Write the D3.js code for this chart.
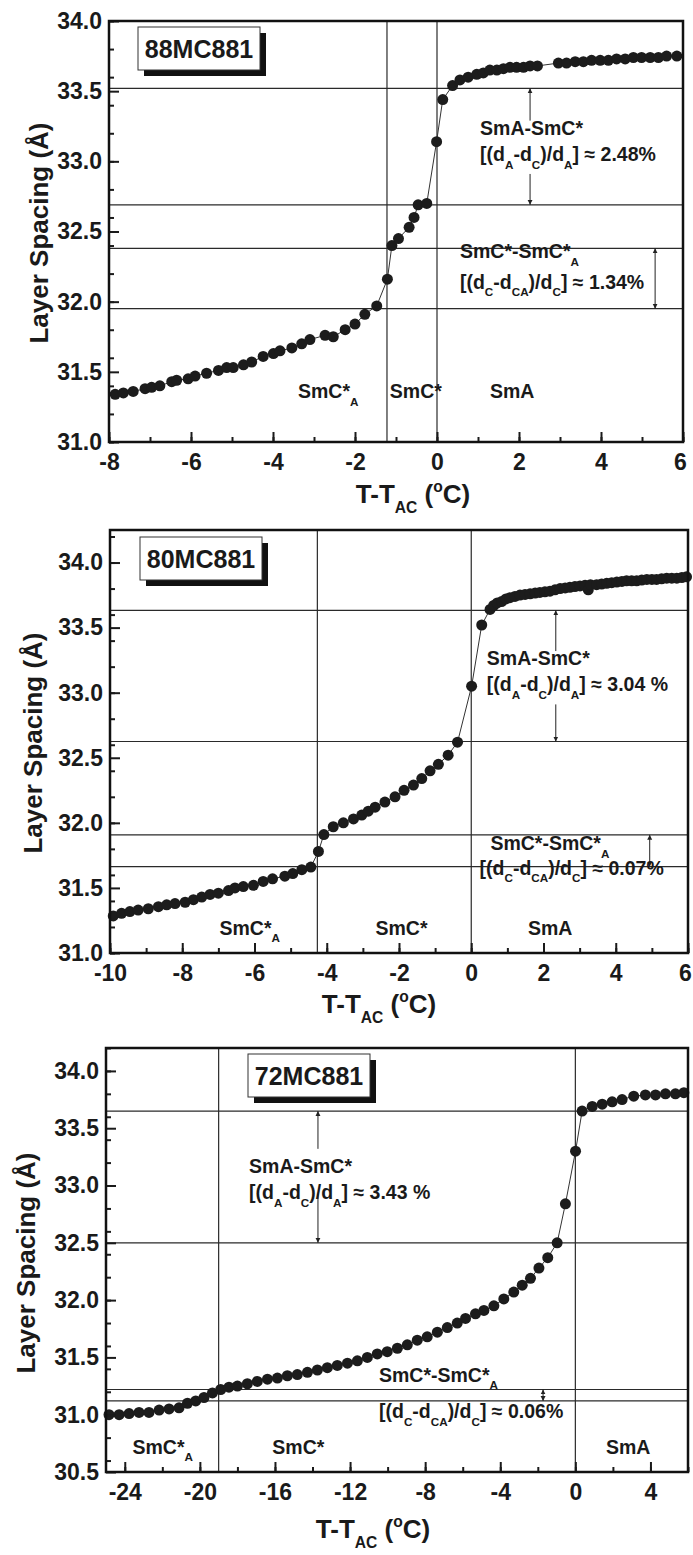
<!DOCTYPE html>
<html>
<head>
<meta charset="utf-8">
<script src="https://cdn.jsdelivr.net/npm/d3@7"></script>
<style>
  body { margin: 0; background: #fff; }
  text { font-family: "Liberation Sans", Arial, sans-serif; font-weight: bold; fill: #1a1a1a; }
</style>
</head>
<body>
<svg id="fig" width="693" height="1555"></svg>
<script>
// 88MC881: temperature T-T_AC (°C) and layer spacing (Å)
const t88 = [-7.85,-7.65,-7.41,-7.12,-6.96,-6.76,-6.47,-6.35,-6.07,-5.90,-5.62,-5.33,-5.13,-4.97,-4.72,
  -4.52,-4.24,-3.99,-3.83,-3.54,-3.30,-3.10,-2.73,-2.53,-2.24,-2.00,-1.76,-1.47,-1.21,-1.10,
  -0.94,-0.68,-0.56,-0.46,-0.25,-0.01,0.14,0.38,0.56,0.76,0.97,1.13,1.29,1.46,1.62,
  1.78,1.94,2.11,2.27,2.45,2.96,3.16,3.37,3.57,3.77,3.98,4.18,4.38,4.59,4.79,
  4.99,5.20,5.40,5.60,5.85];
const d88 = [31.34,31.35,31.36,31.38,31.39,31.40,31.43,31.44,31.45,31.47,31.49,31.51,31.53,31.53,31.55,
  31.57,31.61,31.63,31.65,31.67,31.70,31.73,31.76,31.75,31.80,31.84,31.91,31.97,32.16,32.40,
  32.45,32.53,32.60,32.69,32.70,33.14,33.44,33.54,33.58,33.60,33.62,33.63,33.65,33.65,33.66,
  33.67,33.67,33.67,33.68,33.68,33.70,33.70,33.71,33.71,33.72,33.72,33.72,33.73,33.73,33.74,
  33.74,33.74,33.74,33.75,33.75];

// 80MC881
const t80 = [-9.91,-9.68,-9.45,-9.22,-8.94,-8.66,-8.43,-8.20,-7.92,-7.69,-7.46,-7.23,-7.00,-6.72,-6.54,
  -6.31,-6.03,-5.76,-5.50,-5.16,-4.94,-4.69,-4.44,-4.23,-4.08,-3.82,-3.54,-3.26,-3.03,-2.85,
  -2.66,-2.39,-2.11,-1.86,-1.60,-1.37,-1.14,-0.91,-0.64,-0.38,0.01,0.29,0.52,0.62,0.72,
  0.84,0.96,1.07,1.21,1.35,1.49,1.63,1.77,1.90,2.04,2.18,2.32,2.46,2.60,2.73,
  2.87,3.01,3.15,3.24,3.30,3.47,3.61,3.75,3.89,4.03,4.17,4.30,4.44,4.58,4.72,
  4.86,5.00,5.13,5.27,5.41,5.55,5.69,5.83,5.96];
const d80 = [31.285,31.305,31.318,31.33,31.34,31.356,31.37,31.38,31.39,31.41,31.43,31.45,31.46,31.48,31.50,
  31.51,31.52,31.55,31.57,31.59,31.61,31.64,31.66,31.78,31.91,31.97,32.00,32.03,32.06,32.09,
  32.12,32.16,32.20,32.25,32.29,32.34,32.40,32.45,32.52,32.62,33.05,33.52,33.64,33.67,33.69,
  33.70,33.72,33.73,33.74,33.75,33.755,33.76,33.765,33.77,33.775,33.78,33.79,33.80,33.805,33.81,
  33.815,33.82,33.825,33.79,33.83,33.83,33.835,33.84,33.845,33.85,33.855,33.86,33.86,33.86,33.865,
  33.87,33.87,33.87,33.875,33.88,33.88,33.88,33.885,33.89];

// 72MC881
const t72 = [-24.84,-24.30,-23.77,-23.24,-22.71,-22.17,-21.64,-21.11,-20.66,-20.22,-19.78,-19.33,-18.89,-18.45,-18.00,
  -17.47,-16.94,-16.40,-15.87,-15.34,-14.81,-14.27,-13.74,-13.21,-12.68,-12.14,-11.61,-11.08,-10.55,-10.02,
  -9.48,-8.95,-8.42,-7.89,-7.35,-6.82,-6.29,-5.85,-5.32,-4.87,-4.34,-3.81,-3.28,-2.83,-2.39,
  -1.94,-1.47,-0.97,-0.53,0.01,0.36,0.90,1.43,1.96,2.49,3.11,3.73,4.27,4.80,5.33,5.78];
const d72 = [31.00,31.00,31.01,31.02,31.02,31.04,31.05,31.06,31.10,31.12,31.15,31.19,31.22,31.24,31.25,
  31.27,31.29,31.31,31.32,31.34,31.35,31.37,31.39,31.41,31.43,31.45,31.47,31.50,31.53,31.55,
  31.58,31.61,31.65,31.68,31.72,31.76,31.80,31.84,31.88,31.91,31.95,32.01,32.07,32.13,32.19,
  32.28,32.37,32.50,32.84,33.30,33.65,33.69,33.71,33.73,33.75,33.78,33.79,33.79,33.80,33.80,33.81];

// phase boundaries and layer-spacing reference levels
const vLines88 = [-1.22, 0], hLines88 = [33.52, 32.69, 32.38, 31.95];
const vLines80 = [-4.26, 0], hLines80 = [33.633, 32.625, 31.908, 31.664];
const vLines72 = [-19, 0], hLines72 = [33.65, 32.50, 31.22, 31.12];

const xTicks88 = [-8, -6, -4, -2, 0, 2, 4, 6];
const xTicks80 = [-10, -8, -6, -4, -2, 0, 2, 4, 6];
const xTicks72 = [-24, -20, -16, -12, -8, -4, 0, 4];
const yTicks88 = [31.0, 31.5, 32.0, 32.5, 33.0, 33.5, 34.0];
const yTicks72 = [30.5, 31.0, 31.5, 32.0, 32.5, 33.0, 33.5, 34.0];

const svg = d3.select("#fig");

const defs = svg.append("defs");
defs.append("marker").attr("id", "ah").attr("viewBox", "0 0 10 10")
  .attr("refX", 10).attr("refY", 5).attr("markerWidth", 5).attr("markerHeight", 7)
  .attr("markerUnits", "userSpaceOnUse").attr("orient", "auto-start-reverse")
  .append("path").attr("d", "M0,0L10,5L0,10Z").attr("fill", "#222");

// text with sub/superscripts: parts are strings or [string, "sub"|"sup"]
function rich(g, x, y, parts, size, anchor) {
  const t = g.append("text").attr("x", x).attr("y", y)
    .attr("font-size", size).attr("text-anchor", anchor || "start");
  let shift = 0;
  parts.forEach(p => {
    const s = Array.isArray(p) ? p[0] : p;
    const kind = Array.isArray(p) ? p[1] : null;
    const target = kind === "sub" ? size * 0.38 : kind === "sup" ? -size * 0.42 : 0;
    t.append("tspan").attr("dy", target - shift)
      .attr("font-size", kind ? size * 0.6 : size).text(s);
    shift = target;
  });
  return t;
}

function panel(cfg) {
  const x = d3.scaleLinear().domain(cfg.xDom).range([cfg.left, cfg.right]);
  const y = d3.scaleLinear().domain(cfg.yDom).range([cfg.bottom, cfg.top]);
  const g = svg.append("g");

  cfg.hLines.forEach(v => g.append("line")
    .attr("x1", cfg.left).attr("x2", cfg.right).attr("y1", y(v)).attr("y2", y(v))
    .attr("stroke", "#2a2a2a").attr("stroke-width", 1.2));
  cfg.vLines.forEach(v => g.append("line")
    .attr("x1", x(v)).attr("x2", x(v)).attr("y1", cfg.top).attr("y2", cfg.bottom)
    .attr("stroke", "#2a2a2a").attr("stroke-width", 1.2));

  const pts = cfg.t.map((d, i) => [d, cfg.d[i]]);
  g.append("path").datum(pts)
    .attr("d", d3.line().x(d => x(d[0])).y(d => y(d[1])))
    .attr("fill", "none").attr("stroke", "#333").attr("stroke-width", 1);
  g.selectAll("circle.pt").data(pts).enter().append("circle")
    .attr("class", "pt")
    .attr("cx", d => x(d[0])).attr("cy", d => y(d[1])).attr("r", 5.5)
    .attr("fill", "#1c1c1c");

  // axes with inward ticks, plain hyphen for negatives
  const yAx = g.append("g").attr("transform", `translate(${cfg.left},0)`)
    .call(d3.axisLeft(y).tickValues(cfg.yTicks).tickFormat(d3.format(".1f"))
      .tickSize(-10).tickPadding(7));
  g.append("g").attr("transform", `translate(${cfg.left},0)`)
    .call(d3.axisLeft(y).ticks(cfg.yMinor).tickFormat("").tickSize(-5));
  const xAx = g.append("g").attr("transform", `translate(0,${cfg.bottom})`)
    .call(d3.axisBottom(x).tickValues(cfg.xTicks).tickFormat(d => String(d))
      .tickSize(-10).tickPadding(12));
  g.append("g").attr("transform", `translate(0,${cfg.bottom})`)
    .call(d3.axisBottom(x).ticks(cfg.xMinor).tickFormat("").tickSize(-5));
  g.selectAll(".domain").remove();
  g.selectAll(".tick line").attr("stroke", "#1a1a1a").attr("stroke-width", 2);
  [yAx, xAx].forEach(a => a.selectAll("text")
    .attr("font-size", 23).attr("fill", "#1a1a1a")
    .attr("font-family", "'Liberation Sans', Arial, sans-serif").attr("font-weight", "bold"));
  // last x label sits at the right page edge
  xAx.selectAll(".tick text").filter(d => d === cfg.xDom[1]).attr("dx", -3);

  g.append("rect").attr("x", cfg.left).attr("y", cfg.top)
    .attr("width", cfg.right - cfg.left).attr("height", cfg.bottom - cfg.top)
    .attr("fill", "none").attr("stroke", "#111").attr("stroke-width", 2.5);

  // sample label box with drop shadow
  const b = cfg.box;
  g.append("rect").attr("x", b.x + 6).attr("y", b.y + 6).attr("width", 122).attr("height", 43).attr("fill", "#111");
  g.append("rect").attr("x", b.x).attr("y", b.y).attr("width", 122).attr("height", 43)
    .attr("fill", "#fff").attr("stroke", "#333").attr("stroke-width", 1);
  g.append("text").attr("x", b.x + 61).attr("y", b.y + 31).attr("text-anchor", "middle")
    .attr("font-size", 25).text(cfg.name);

  // arrows
  const a1 = cfg.arrow1;
  g.append("line").attr("x1", x(a1.x)).attr("x2", x(a1.x)).attr("y1", y(a1.gapTop)).attr("y2", y(a1.top))
    .attr("stroke", "#222").attr("stroke-width", 1).attr("marker-end", "url(#ah)");
  g.append("line").attr("x1", x(a1.x)).attr("x2", x(a1.x)).attr("y1", y(a1.gapBot)).attr("y2", y(a1.bot))
    .attr("stroke", "#222").attr("stroke-width", 1).attr("marker-end", "url(#ah)");
  const a2 = cfg.arrow2;
  g.append("line").attr("x1", x(a2.x)).attr("x2", x(a2.x)).attr("y1", y(a2.top)).attr("y2", y(a2.bot))
    .attr("stroke", "#222").attr("stroke-width", 1)
    .attr("marker-start", "url(#ah)").attr("marker-end", "url(#ah)");

  // annotations
  const n = cfg.notes;
  rich(g, x(n.ac[0]), y(n.ac[1]), ["SmA-SmC*"], 19.5);
  rich(g, x(n.f1[0]), y(n.f1[1]), ["[(d", ["A", "sub"], "-d", ["C", "sub"], ")/d", ["A", "sub"], "] \u2248 " + n.p1], 19.5);
  rich(g, x(n.cc[0]), y(n.cc[1]), ["SmC*-SmC*", ["A", "sub"]], 19.5);
  rich(g, x(n.f2[0]), y(n.f2[1]), ["[(d", ["C", "sub"], "-d", ["CA", "sub"], ")/d", ["C", "sub"], "] \u2248 " + n.p2], 19.5);
  rich(g, x(n.ph[0]), y(n.phY), ["SmC*", ["A", "sub"]], 19.5);
  rich(g, x(n.ph[1]), y(n.phY), ["SmC*"], 19.5);
  rich(g, x(n.ph[2]), y(n.phY), ["SmA"], 19.5);

  // axis titles
  rich(g, cfg.xTitle[0], cfg.xTitle[1], ["T-T", ["AC", "sub"], " (", ["o", "sup"], "C)"], 26, "middle");
  g.append("text").attr("transform", `translate(${cfg.yTitle[0]},${cfg.yTitle[1]}) rotate(-90)`)
    .attr("text-anchor", "middle").attr("font-size", 26).text("Layer Spacing (\u00c5)");
}

panel({
  name: "88MC881", t: t88, d: d88,
  xDom: [-8, 6], yDom: [31, 34], left: 109, right: 683, top: 21, bottom: 442,
  xTicks: xTicks88, xMinor: 14, yTicks: yTicks88, yMinor: 12,
  hLines: hLines88, vLines: vLines88,
  box: { x: 138, y: 27 },
  arrow1: { x: 2.27, top: 33.52, gapTop: 33.29, gapBot: 32.91, bot: 32.69 },
  arrow2: { x: 5.32, top: 32.38, bot: 31.95 },
  notes: { ac: [1.05, 33.19], f1: [1.05, 33.0], p1: "2.48%", cc: [0.56, 32.31], f2: [0.56, 32.09], p2: "1.34%",
    ph: [-3.39, -1.15, 1.29], phY: 31.31 },
  xTitle: [413, 503], yTitle: [48, 233]
});

panel({
  name: "80MC881", t: t80, d: d80,
  xDom: [-10, 6], yDom: [31, 34.25], left: 110, right: 688, top: 530, bottom: 953,
  xTicks: xTicks80, xMinor: 16, yTicks: yTicks88, yMinor: 13,
  hLines: hLines80, vLines: vLines80,
  box: { x: 140, y: 537 },
  arrow1: { x: 2.34, top: 33.633, gapTop: 33.32, gapBot: 32.91, bot: 32.625 },
  arrow2: { x: 4.94, top: 31.908, bot: 31.664 },
  notes: { ac: [0.43, 33.215], f1: [0.43, 33.01], p1: "3.04 %", cc: [0.53, 31.79], f2: [0.23, 31.60], p2: "0.07%",
    ph: [-6.97, -2.65, 1.57], phY: 31.14 },
  xTitle: [379, 1013], yTitle: [42, 743]
});

panel({
  name: "72MC881", t: t72, d: d72,
  xDom: [-25, 6], yDom: [30.5, 34.2], left: 106, right: 688, top: 1048, bottom: 1472,
  xTicks: xTicks72, xMinor: 15, yTicks: yTicks72, yMinor: 14,
  hLines: hLines72, vLines: vLines72,
  box: { x: 248, y: 1054 },
  arrow1: { x: -13.71, top: 33.65, gapTop: 33.32, gapBot: 32.93, bot: 32.50 },
  arrow2: { x: -1.72, top: 31.22, bot: 31.12 },
  notes: { ac: [-17.38, 33.11], f1: [-17.38, 32.88], p1: "3.43 %", cc: [-10.46, 31.285], f2: [-10.46, 30.97], p2: "0.06%",
    ph: [-23.59, -16.14, 1.63], phY: 30.66 },
  xTitle: [373, 1538], yTitle: [35, 1263]
});
</script>
</body>
</html>
